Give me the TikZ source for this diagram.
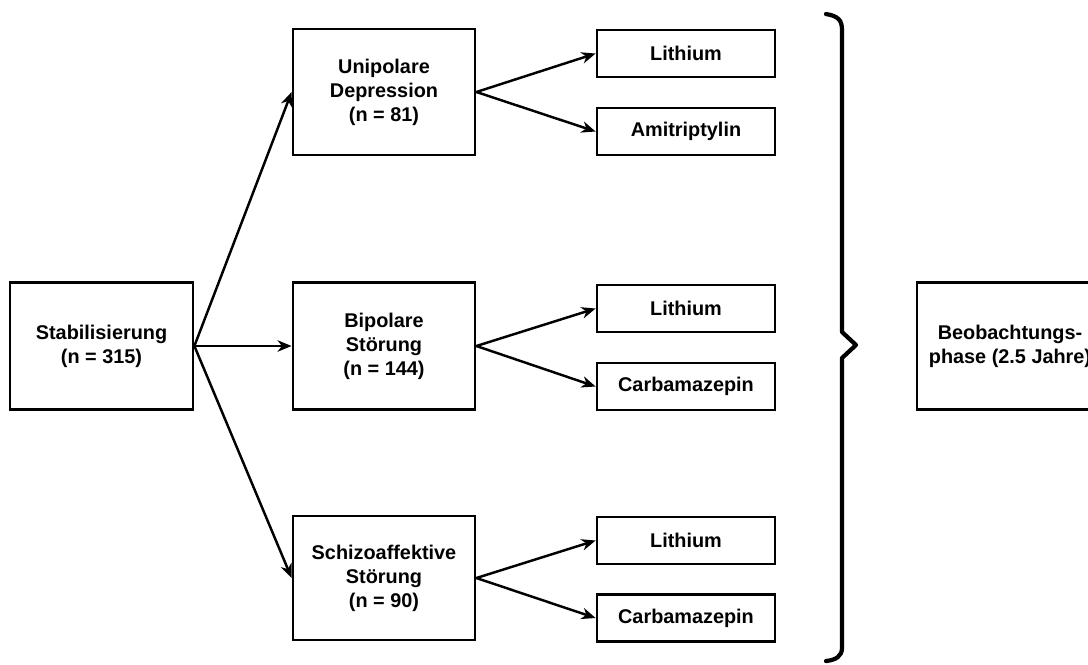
\documentclass[tikz,border=0pt]{standalone}
\usepackage{fontspec}
\setmainfont{Liberation Sans}
\usetikzlibrary{arrows.meta}
\begin{document}
\begin{tikzpicture}[x=0.02cm,y=-0.02cm,
  box/.style={draw,line width=1.6pt,align=center,inner sep=0pt,
    font=\fontsize{11.3}{13.6}\selectfont\bfseries},
  bigbox/.style={box,minimum width=3.64cm,minimum height=2.52cm},
  smallbox/.style={box,minimum width=3.56cm,minimum height=0.94cm},
  arr/.style={line width=1.4pt,-{Stealth[length=8pt,width=6.5pt,inset=2.5pt]}},
  bracestyle/.style={line width=2.4pt,line join=round,line cap=round}]
\useasboundingbox (0,0) rectangle (1088,664);
\node[bigbox,minimum width=3.66cm,minimum height=2.54cm] (stab) at (101.5,346) {Stabilisierung\\(n = 315)};
\node[bigbox] (uni) at (384,92) {Unipolare\\Depression\\(n = 81)};
\node[bigbox,minimum height=2.54cm] (bip) at (384,346) {Bipolare\\Störung\\(n = 144)};
\node[bigbox,minimum height=2.48cm] (schizo) at (384,578) {Schizoaffektive\\Störung\\(n = 90)};
\node[smallbox] (li1) at (686,53.5) {Lithium};
\node[smallbox] (ami) at (686,131.5) {Amitriptylin};
\node[smallbox] (li2) at (686,308.5) {Lithium};
\node[smallbox] (carb1) at (686,386.5) {Carbamazepin};
\node[smallbox] (li3) at (686,540.5) {Lithium};
\node[smallbox] (carb2) at (686,618) {Carbamazepin};
\node[box,minimum width=3.72cm,minimum height=2.54cm] (beob) at (1010,346) {Beobachtungs-\\phase (2.5 Jahre)};
\draw[arr] (stab.east) -- (uni.west);
\draw[arr] (stab.east) -- (bip.west);
\draw[arr] (stab.east) -- (schizo.west);
\draw[arr] (uni.east) -- (li1.west);
\draw[arr] (uni.east) -- (ami.west);
\draw[arr] (bip.east) -- (li2.west);
\draw[arr] (bip.east) -- (carb1.west);
\draw[arr] (schizo.east) -- (li3.west);
\draw[arr] (schizo.east) -- (carb2.west);
\coordinate (btop) at (826,14);
\coordinate (btip) at (856,345);
\coordinate (bbot) at (826,661);
\draw[bracestyle] (btop) .. controls (838,16) and (842,20) .. (842,30)
  -- (842,332) -- (btip) -- (842,358) -- (842,648)
  .. controls (842,656) and (836,660) .. (bbot);
\end{tikzpicture}
\end{document}
